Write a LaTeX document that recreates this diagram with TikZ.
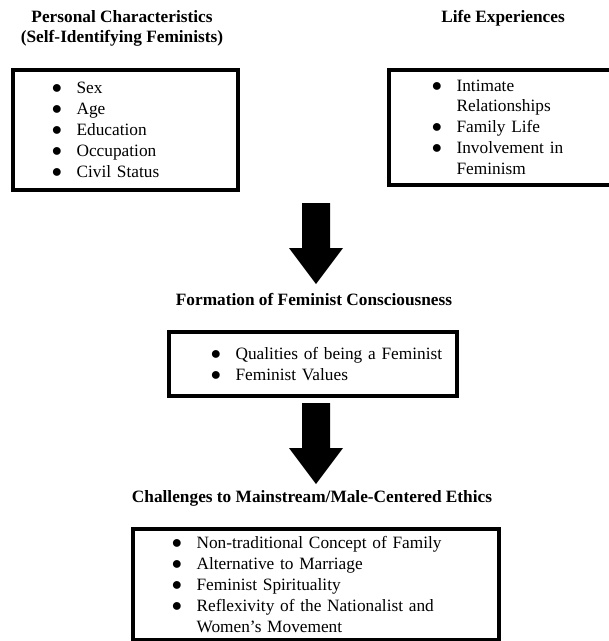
\documentclass[tikz,border=0pt]{standalone}
\usepackage{fontspec}
\setmainfont{Liberation Serif}
\usetikzlibrary{calc}

\tikzset{
  heading/.style={font=\bfseries\fontsize{12.3}{14.2}\selectfont, align=center, inner sep=0pt},
  listbox/.style={draw, line width=2.5pt, anchor=north west, align=left,
    inner ysep=0pt, font=\fontsize{12.3}{14.9}\selectfont},
}
\newcommand{\blt}{\makebox[0.62cm][l]{\fontsize{14}{14}\selectfont$\bullet$}}
\newcommand{\cnt}{\hspace*{0.62cm}}
\newcommand{\itm}[1]{\mbox{\blt #1}}

\begin{document}
\begin{tikzpicture}[x=0.025cm, y=-0.025cm]
      \useasboundingbox (0,0) rectangle (608,641);

      % Titres
      \node[heading] (persHead) at (122,28) {Personal Characteristics\\(Self-Identifying Feminists)};
      \node[heading] (lifeHead) at (503,18) {Life Experiences};
      \node[heading] (formHead) at (314,300) {Formation of Feminist Consciousness};
      \node[heading] (chalHead) at (312,498) {Challenges to Mainstream/Male-Centered Ethics};

      % Cadres
      \node[listbox, minimum width=5.625cm, minimum height=3cm, inner xsep=0.975cm,
            text width=3.675cm] (persBox) at (11,68)
            {\itm{Sex}\\ \itm{Age}\\ \itm{Education}\\ \itm{Occupation}\\ \itm{Civil Status}};
      \node[listbox, minimum width=5.625cm, minimum height=2.875cm, inner xsep=1.075cm,
            text width=3.475cm] (lifeBox) at (387,68)
            {\itm{Intimate}\\ \cnt Relationships\\ \itm{Family Life}\\ \itm{Involvement in}\\ \cnt Feminism};
      \node[listbox, minimum width=7.2cm, minimum height=1.6cm, inner xsep=1.05cm,
            text width=5.1cm] (formBox) at (167,330)
            {\itm{Qualities of being a Feminist}\\ \itm{Feminist Values}};
      \node[listbox, minimum width=9.15cm, minimum height=2.775cm, inner xsep=0.975cm,
            text width=7.2cm] (chalBox) at (131,527)
            {\itm{Non-traditional Concept of Family}\\ \itm{Alternative to Marriage}\\
             \itm{Feminist Spirituality}\\ \itm{Reflexivity of the Nationalist and}\\
             \cnt Women's Movement};

      % Fleches
      \foreach \top in {203,403}
        \fill (302,\top) -- (330,\top) -- (330,\top+45) -- (343,\top+45)
              -- (316,\top+81) -- (289,\top+45) -- (302,\top+45) -- cycle;
    \end{tikzpicture}
\end{document}
